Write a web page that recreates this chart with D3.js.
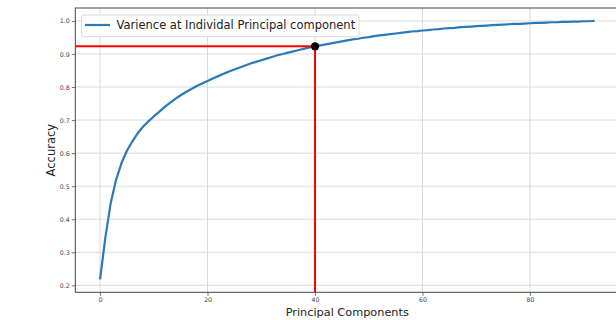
<!DOCTYPE html>
<html>
<head>
<meta charset="utf-8">
<script src="https://cdn.jsdelivr.net/npm/d3@7"></script>
<style>
  body { margin: 0; background: #fff; }
  svg { display: block; font-family: "DejaVu Sans", sans-serif; }
</style>
</head>
<body>
<svg class="chart"></svg>
<script>
var width = 616;
var height = 320;

// cumulative variance per principal component (index = component number)
var accuracy = [
  0.218, 0.345, 0.450, 0.520, 0.570, 0.607, 0.635, 0.660, 0.680, 0.696,
  0.711, 0.725, 0.739, 0.752, 0.764, 0.775, 0.785, 0.794, 0.803, 0.811,
  0.818, 0.826, 0.833, 0.840, 0.847, 0.853, 0.859, 0.865, 0.871, 0.876,
  0.881, 0.886, 0.891, 0.896, 0.900, 0.904, 0.908, 0.912, 0.916, 0.920,
  0.923, 0.926, 0.929, 0.932, 0.935, 0.938, 0.941, 0.944, 0.946, 0.949,
  0.951, 0.954, 0.956, 0.958, 0.960, 0.962, 0.964, 0.966, 0.968, 0.969,
  0.971, 0.972, 0.974, 0.975, 0.977, 0.978, 0.979, 0.981, 0.982, 0.983,
  0.984, 0.985, 0.986, 0.987, 0.988, 0.989, 0.990, 0.991, 0.991, 0.992,
  0.993, 0.994, 0.994, 0.995, 0.996, 0.996, 0.997, 0.997, 0.998, 0.998,
  0.999, 0.999, 1.000
];
var components = accuracy.map(function(d, i){ return i; });

var xTicks = [0, 20, 40, 60, 80];
var yTicks = [0.2, 0.3, 0.4, 0.5, 0.6, 0.7, 0.8, 0.9, 1.0];

var chosen = 40;           // selected number of components
var legendLabel = "Varience at Individal Principal component";

var margin = {'top': 8, 'right': -3.2, 'bottom': 27.7, 'left': 75.3};

var chart = d3.select(".chart")
    .attr("width", width)
    .attr("height", height);

// matplotlib style 5% margins around the data
var xPad = (d3.max(components) - d3.min(components)) * 0.05;
var yPad = (d3.max(accuracy) - d3.min(accuracy)) * 0.05;

var x = d3.scaleLinear()
  .domain([d3.min(components) - xPad, d3.max(components) + xPad])
  .range([margin.left, width - margin.right]);

var y = d3.scaleLinear()
  .domain([d3.min(accuracy) - yPad, d3.max(accuracy) + yPad])
  .range([height - margin.bottom, margin.top]);

var x0 = x.range()[0], x1 = x.range()[1];
var y0 = y.range()[0], y1 = y.range()[1];

// grid
chart.append('g')
  .selectAll('line')
  .data(xTicks)
  .join('line')
    .attr('x1', function(d){ return x(d); })
    .attr('x2', function(d){ return x(d); })
    .attr('y1', y0)
    .attr('y2', y1)
    .attr('stroke', '#dadada')
    .attr('stroke-width', 1);

chart.append('g')
  .selectAll('line')
  .data(yTicks)
  .join('line')
    .attr('x1', x0)
    .attr('x2', x1)
    .attr('y1', function(d){ return y(d); })
    .attr('y2', function(d){ return y(d); })
    .attr('stroke', '#dadada')
    .attr('stroke-width', 1);

// axes
var x_axis = d3.axisBottom(x)
  .tickValues(xTicks)
  .tickFormat(d3.format('d'))
  .tickSize(3.5)
  .tickPadding(2);

var y_axis = d3.axisLeft(y)
  .tickValues(yTicks)
  .tickFormat(d3.format('.1f'))
  .tickSize(3.5)
  .tickPadding(2);

var gx = chart.append('g')
  .attr('transform', 'translate(0,' + y0 + ')')
  .call(x_axis);

var gy = chart.append('g')
  .attr('transform', 'translate(' + x0 + ',0)')
  .call(y_axis);

[gx, gy].forEach(function(g){
  g.select('.domain').remove();
  g.selectAll('.tick line').attr('stroke', '#555').attr('stroke-width', 0.8);
  g.selectAll('.tick text')
    .attr('fill', '#444')
    .style('font-size', '6.3px')
    .style('font-family', '"DejaVu Sans", sans-serif');
});

// spines (right one falls outside the picture)
chart.append('rect')
  .attr('x', x0)
  .attr('y', y1)
  .attr('width', x1 - x0)
  .attr('height', y0 - y1)
  .attr('fill', 'none')
  .attr('stroke', '#444')
  .attr('stroke-width', 1);

// the variance curve
var line = d3.line()
  .x(function(d, i){ return x(components[i]); })
  .y(function(d){ return y(d); });

chart.append('path')
  .datum(accuracy)
  .attr('d', line)
  .attr('fill', 'none')
  .attr('stroke', '#2a7ab9')
  .attr('stroke-width', 2.2)
  .attr('stroke-linejoin', 'round');

// red guides to the chosen component
var chosenValue = accuracy[chosen];

chart.append('line')
  .attr('x1', x0)
  .attr('x2', x(chosen))
  .attr('y1', y(chosenValue))
  .attr('y2', y(chosenValue))
  .attr('stroke', 'red')
  .attr('stroke-width', 2);

chart.append('line')
  .attr('x1', x(chosen))
  .attr('x2', x(chosen))
  .attr('y1', y(chosenValue))
  .attr('y2', y0)
  .attr('stroke', 'red')
  .attr('stroke-width', 2);

chart.append('circle')
  .attr('cx', x(chosen))
  .attr('cy', y(chosenValue))
  .attr('r', 4.2)
  .attr('fill', 'black');

// legend
var legend = chart.append('g')
  .attr('transform', 'translate(81.5,15)');

legend.append('rect')
  .attr('width', 277.5)
  .attr('height', 21.7)
  .attr('rx', 2)
  .attr('fill', 'white')
  .attr('fill-opacity', 0.85)
  .attr('stroke', '#d0d0d0')
  .attr('stroke-width', 0.8);

legend.append('line')
  .attr('x1', 3.5)
  .attr('x2', 28.5)
  .attr('y1', 10)
  .attr('y2', 10)
  .attr('stroke', '#2a7ab9')
  .attr('stroke-width', 2.2);

legend.append('text')
  .attr('x', 35)
  .attr('y', 14.3)
  .attr('fill', '#222')
  .style('font-size', '11.5px')
  .text(legendLabel);

// axis titles
chart.append('text')
  .attr('x', (x0 + x1) / 2)
  .attr('y', 315.5)
  .attr('text-anchor', 'middle')
  .attr('fill', '#222')
  .style('font-size', '11.3px')
  .text('Principal Components');

chart.append('text')
  .attr('transform', 'translate(54.5,' + ((y0 + y1) / 2) + ') rotate(-90)')
  .attr('text-anchor', 'middle')
  .attr('fill', '#222')
  .style('font-size', '11.5px')
  .text('Accuracy');
</script>
</body>
</html>
